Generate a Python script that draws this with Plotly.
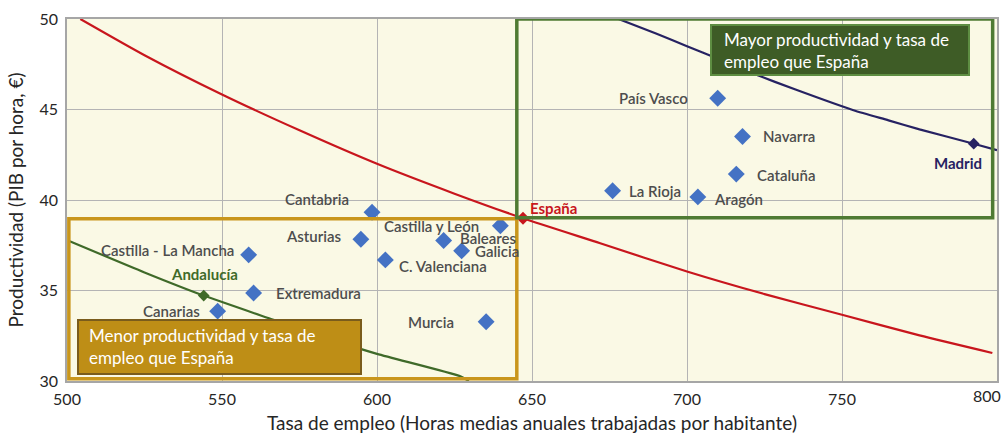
import plotly.graph_objects as go

# ---------------- data ----------------
regions = ["País Vasco", "Navarra", "Cataluña", "La Rioja", "Aragón", "Cantabria",
           "Castilla y León", "Asturias", "Baleares", "Galicia", "C. Valenciana",
           "Castilla - La Mancha", "Extremadura", "Canarias", "Murcia"]
empleo = [709.9, 717.9, 715.9, 676.0, 703.5, 598.4,
          639.8, 594.8, 621.5, 627.3, 602.7,
          558.6, 560.2, 548.6, 635.2]
productividad = [45.62, 43.51, 41.43, 40.51, 40.17, 39.32,
                 38.58, 37.83, 37.76, 37.19, 36.69,
                 36.97, 34.86, 33.86, 33.27]

espana_x, espana_y = [647.1], [38.99]
madrid_x, madrid_y = [792.5], [43.11]
andalucia_x, andalucia_y = [544.1], [34.72]

# iso-PIB-per-capita curves
curva_espana_x = [504.3, 525, 550, 575, 600, 625, 647.1, 672, 700, 725, 750, 775, 798.5]
curva_espana_y = [50.0, 48.0, 45.83, 43.85, 42.0, 40.35, 38.99, 37.61, 36.05, 34.8, 33.66, 32.52, 31.55]
curva_madrid_x = [677.9, 690, 700, 710, 721.5, 735, 753.7, 765, 775, 792.5, 800]
curva_madrid_y = [50.0, 49.2, 48.5, 47.8, 46.98, 46.1, 44.96, 44.4, 43.9, 43.11, 42.75]
curva_andalucia_x = [500.5, 525, 544.1, 566.6, 585, 600, 626.9, 629.6]
curva_andalucia_y = [37.75, 36.0, 34.72, 33.38, 32.3, 31.5, 30.26, 30.0]

x_ticks = [500, 550, 600, 650, 700, 750, 800]
y_ticks = [30, 35, 40, 45, 50]

# ---------------- styles ----------------
FONT = "Lato"
BLUE = "#4472C4"
RED = "#C8161D"
NAVY = "#262262"
DGREEN = "#3F6A29"
LABEL = "#4D4D4D"
TICKC = "#262626"

# label offsets (anchor, xshift, yshift) in pixels
label_pos = {
    "País Vasco": ("right", -28, 0),
    "Navarra": ("left", 19, 0),
    "Cataluña": ("left", 19, -1),
    "La Rioja": ("left", 14, 0),
    "Aragón": ("left", 14, -2),
    "Cantabria": ("right", -21, 13),
    "Castilla y León": ("right", -19, 0),
    "Asturias": ("right", -17, 3),
    "Baleares": ("left", 14, 3),
    "Galicia": ("left", 11, 0),
    "C. Valenciana": ("left", 12, -6),
    "Castilla - La Mancha": ("right", -13, 5),
    "Extremadura": ("left", 20, 0),
    "Canarias": ("right", -16, 0),
    "Murcia": ("right", -30, 0),
}

fig = go.Figure()

fig.add_trace(go.Scatter(x=curva_espana_x, y=curva_espana_y, mode="lines",
                         line=dict(color=RED, width=2.2, shape="spline", smoothing=0.6),
                         hoverinfo="skip"))
fig.add_trace(go.Scatter(x=curva_madrid_x, y=curva_madrid_y, mode="lines",
                         line=dict(color=NAVY, width=2.2, shape="spline", smoothing=0.6),
                         hoverinfo="skip"))
fig.add_trace(go.Scatter(x=curva_andalucia_x, y=curva_andalucia_y, mode="lines",
                         line=dict(color=DGREEN, width=2.2, shape="spline", smoothing=0.6),
                         hoverinfo="skip"))

fig.add_trace(go.Scatter(x=empleo, y=productividad, mode="markers",
                         marker=dict(symbol="diamond", size=13, color=BLUE),
                         text=regions, hoverinfo="text"))
fig.add_trace(go.Scatter(x=espana_x, y=espana_y, mode="markers",
                         marker=dict(symbol="diamond", size=10, color=RED)))
fig.add_trace(go.Scatter(x=madrid_x, y=madrid_y, mode="markers",
                         marker=dict(symbol="diamond", size=9, color=NAVY)))
fig.add_trace(go.Scatter(x=andalucia_x, y=andalucia_y, mode="markers",
                         marker=dict(symbol="diamond", size=9, color=DGREEN)))

annotations = []
for name, xv, yv in zip(regions, empleo, productividad):
    anc, xs, ys = label_pos[name]
    annotations.append(dict(x=xv, y=yv, text=name, showarrow=False, xanchor=anc,
                            yanchor="middle", xshift=xs, yshift=ys,
                            font=dict(family=FONT, size=15, color=LABEL, weight=600)))
annotations.append(dict(x=espana_x[0], y=espana_y[0], text="España", showarrow=False,
                        xanchor="left", yanchor="middle", xshift=5, yshift=10,
                        font=dict(family=FONT, size=15, color=RED, weight=700)))
annotations.append(dict(x=madrid_x[0], y=madrid_y[0], text="Madrid", showarrow=False,
                        xanchor="center", yanchor="middle", xshift=-16, yshift=-19,
                        font=dict(family=FONT, size=15, color=NAVY, weight=700)))
annotations.append(dict(x=andalucia_x[0], y=andalucia_y[0], text="Andalucía", showarrow=False,
                        xanchor="center", yanchor="middle", xshift=1, yshift=22,
                        font=dict(family=FONT, size=15, color=DGREEN, weight=700)))

# ---- pixel helpers for layout-only positions ----
L, R, T, B = 67, 8, 19, 53
W, H = 1005, 434
PW, PH = W - L - R, H - T - B


def px2x(px):
    return 500 + (px - L) / PW * 300


def py2y(py):
    return 50 - (py - T) / PH * 20


shapes = [
    # quadrant frames
    dict(type="rect", xref="x", yref="y", x0=500.6, x1=645.1, y0=30.12, y1=38.97,
         line=dict(color="#C9961C", width=3.5), layer="above"),
    dict(type="rect", xref="x", yref="y", x0=645.1, x1=798.6, y0=39.02, y1=50.0,
         line=dict(color="#4F7B33", width=3.5), layer="above"),
    # text boxes
    dict(type="rect", xref="x", yref="y", x0=px2x(711), x1=px2x(969), y0=py2y(75), y1=py2y(25),
         fillcolor="#3E5C26", line=dict(color="#5E8E42", width=2), layer="above"),
    dict(type="rect", xref="x", yref="y", x0=px2x(78), x1=px2x(361), y0=py2y(374), y1=py2y(320),
         fillcolor="#BE8E16", line=dict(color="#7A5C1C", width=2), layer="above"),
]

annotations.append(dict(x=px2x(722), y=py2y(50), xref="x", yref="y",
                        text="Mayor productividad y tasa de<br>empleo que España",
                        showarrow=False, xanchor="left", yanchor="middle", align="left",
                        font=dict(family=FONT, size=17, color="white")))
annotations.append(dict(x=px2x(87), y=py2y(346), xref="x", yref="y",
                        text="Menor productividad y tasa de<br>empleo que España",
                        showarrow=False, xanchor="left", yanchor="middle", align="left",
                        font=dict(family=FONT, size=17, color="white")))

# last x tick label sits against the right edge: draw it as an annotation, nudged inward
x_ticktext = [str(v) for v in x_ticks]
x_ticktext[-1] = ""
annotations.append(dict(x=x_ticks[-1], y=0, xref="x", yref="paper", text=str(x_ticks[-1]),
                        showarrow=False, xanchor="right", yanchor="top", xshift=6, yshift=-3,
                        font=dict(family=FONT, size=16, color=TICKC)))

fig.update_layout(
    width=W, height=H,
    margin=dict(l=L, r=R, t=T, b=B, autoexpand=False),
    paper_bgcolor="white",
    plot_bgcolor="#FAF9E5",
    showlegend=False,
    shapes=shapes,
    annotations=annotations,
    font=dict(family=FONT, color=TICKC),
)
fig.update_xaxes(range=[500, 800], tickvals=x_ticks, ticktext=x_ticktext,
                 showgrid=True, gridcolor="#B4B4B4", gridwidth=1.3, automargin=False,
                 showline=True, linecolor="#A6A6A6", linewidth=1.5, mirror=True,
                 zeroline=False, ticks="", ticklabelstandoff=3,
                 tickfont=dict(size=16, family=FONT, color=TICKC),
                 title=dict(text="Tasa de empleo (Horas medias anuales trabajadas por habitante)",
                            font=dict(size=19, family=FONT, color=TICKC), standoff=10))
fig.update_yaxes(range=[30, 50], tickvals=y_ticks, ticktext=[str(v) for v in y_ticks],
                 showgrid=True, gridcolor="#B4B4B4", gridwidth=1.3, automargin=False,
                 showline=True, linecolor="#A6A6A6", linewidth=1.5, mirror=True,
                 zeroline=False, ticks="", ticklabelstandoff=4,
                 tickfont=dict(size=16, family=FONT, color=TICKC),
                 title=dict(text="Productividad (PIB por hora, €)",
                            font=dict(size=19, family=FONT, color=TICKC), standoff=11))

fig.write_html("out.html", config={"displayModeBar": False},
               post_script="document.body.style.margin='0px';")
